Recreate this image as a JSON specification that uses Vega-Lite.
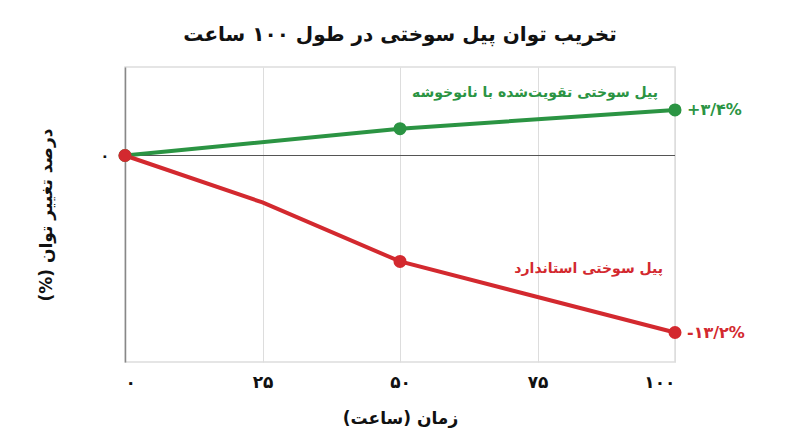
{
  "$schema": "https://vega.github.io/schema/vega-lite/v6.json",
  "width": 550,
  "height": 295,
  "autosize": {"type": "none"},
  "padding": {"left": 125, "top": 67, "right": 125, "bottom": 85},
  "title": {
    "text": "تخریب توان پیل سوختی در طول ۱۰۰ ساعت",
    "font": "DejaVu Sans",
    "fontSize": 20,
    "fontWeight": "bold",
    "color": "#111111",
    "anchor": "middle",
    "offset": 22
  },
  "data": {
    "values": [
      {"series": "enhanced", "hours": 0, "change": 0},
      {"series": "enhanced", "hours": 50, "change": 2.0},
      {"series": "enhanced", "hours": 100, "change": 3.4, "end_label": "+۳/۴%", "name": "پیل سوختی تقویت‌شده با نانوخوشه"},
      {"series": "standard", "hours": 0, "change": 0},
      {"series": "standard", "hours": 25, "change": -3.5},
      {"series": "standard", "hours": 50, "change": -7.9},
      {"series": "standard", "hours": 100, "change": -13.2, "end_label": "-۱۳/۲%", "name": "پیل سوختی استاندارد"}
    ]
  },
  "encoding": {
    "x": {
      "field": "hours",
      "type": "quantitative",
      "scale": {"domain": [0, 100], "nice": false},
      "axis": {
        "values": [0, 25, 50, 75, 100],
        "labelExpr": "datum.value == 0 ? '۰' : datum.value == 25 ? '۲۵' : datum.value == 50 ? '۵۰' : datum.value == 75 ? '۷۵' : '۱۰۰'",
        "title": "زمان (ساعت)‏",
        "grid": true,
        "gridColor": "#dddddd",
        "domain": false,
        "ticks": false,
        "labelPadding": 12,
        "labelFontSize": 17,
        "labelFontWeight": "bold",
        "labelColor": "#111111",
        "labelFont": "DejaVu Sans",
        "titleFont": "DejaVu Sans",
        "titleFontSize": 17,
        "titleFontWeight": "bold",
        "titleColor": "#111111",
        "titlePadding": 20
      }
    },
    "y": {
      "field": "change",
      "type": "quantitative",
      "scale": {"domain": [-15.4, 6.6], "nice": false, "zero": false},
      "axis": {
        "values": [0],
        "labelExpr": "'۰'",
        "title": "درصد تغییر توان (%)‏",
        "grid": false,
        "domain": true,
        "domainColor": "#888888",
        "domainWidth": 1.5,
        "ticks": false,
        "labelPadding": 16,
        "labelFontSize": 15,
        "labelFontWeight": "bold",
        "labelColor": "#111111",
        "labelFont": "DejaVu Sans",
        "titleFont": "DejaVu Sans",
        "titleFontSize": 17,
        "titleFontWeight": "bold",
        "titleColor": "#111111",
        "titlePadding": 44
      }
    },
    "color": {
      "field": "series",
      "type": "nominal",
      "scale": {"domain": ["enhanced", "standard"], "range": ["#2b9443", "#d3292f"]},
      "legend": null
    }
  },
  "layer": [
    {
      "mark": {"type": "rule", "color": "#555555", "strokeWidth": 1},
      "encoding": {"y": {"datum": 0}, "x": {}, "color": {"value": "#555555"}}
    },
    {
      "mark": {"type": "line", "strokeWidth": 4}
    },
    {
      "transform": [{"filter": "datum.hours != 25"}],
      "mark": {"type": "point", "filled": true, "opacity": 1, "size": 170}
    },
    {
      "transform": [{"filter": "datum.end_label"}],
      "mark": {"type": "text", "align": "left", "baseline": "middle", "dx": 12, "fontSize": 16, "fontWeight": "bold", "font": "DejaVu Sans"},
      "encoding": {"text": {"field": "end_label"}}
    },
    {
      "transform": [{"filter": "datum.series == 'enhanced' && datum.name"}],
      "mark": {"type": "text", "align": "right", "baseline": "middle", "dx": -17, "dy": -17, "fontSize": 14, "fontWeight": "bold", "font": "DejaVu Sans"},
      "encoding": {"text": {"field": "name"}}
    },
    {
      "transform": [{"filter": "datum.series == 'standard' && datum.name"}],
      "mark": {"type": "text", "align": "right", "baseline": "middle", "dx": -12, "dy": -64, "fontSize": 14, "fontWeight": "bold", "font": "DejaVu Sans"},
      "encoding": {"text": {"field": "name"}}
    }
  ],
  "config": {
    "view": {"stroke": "#dddddd", "strokeWidth": 1.5},
    "font": "DejaVu Sans"
  }
}
